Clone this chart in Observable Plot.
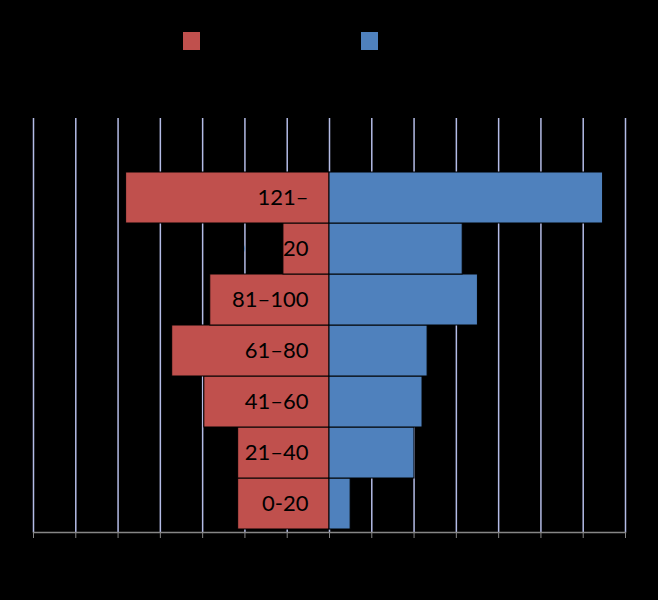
<!DOCTYPE html>
<html>
<head>
<meta charset="utf-8">
<script src="https://cdn.jsdelivr.net/npm/d3@7"></script>
<script src="https://cdn.jsdelivr.net/npm/@observablehq/plot@0.6"></script>
<style>
  html, body { margin: 0; padding: 0; background: #000; }
  #wrap { position: relative; width: 658px; height: 600px; background: #000; }
  .legend { position: absolute; top: 32px; display: flex; align-items: center; font: 14px Lato, sans-serif; color: #000; }
  .sw { width: 17px; height: 18px; display: inline-block; margin-right: 6px; }
</style>
</head>
<body>
<div id="wrap">
  <div class="legend" style="left:183px"><span class="sw" style="background:#c0504d"></span><span>Series 1</span></div>
  <div class="legend" style="left:361px"><span class="sw" style="background:#4f81bd"></span><span>Series 2</span></div>
</div>
<script>
const categories = ["0-20", "21–40", "41–60", "61–80", "81–100", "101–120", "121–"];
const leftValues = [2.16, 2.16, 2.96, 3.72, 2.82, 1.09, 4.81];
const rightValues = [0.50, 2.01, 2.20, 2.32, 3.51, 3.15, 6.47];
const xTicks = [-7, -6, -5, -4, -3, -2, -1, 0, 1, 2, 3, 4, 5, 6, 7];

const data = categories.map((c, i) => ({cat: c, left: leftValues[i], right: rightValues[i]}));
const yDomain = [" ", ...categories.slice().reverse()];

const chart = Plot.plot({
  width: 658,
  height: 600,
  marginLeft: 33,
  marginRight: 33,
  marginTop: 118,
  marginBottom: 68,
  style: {background: "#000", fontFamily: "Lato, sans-serif"},
  x: {domain: [-7, 7]},
  y: {domain: yDomain, padding: 0, axis: null},
  marks: [
    Plot.gridX(xTicks, {stroke: "#b4bce6", strokeOpacity: 1, strokeWidth: 1.5}),
    Plot.barX(data, {y: "cat", x1: d => -d.left, x2: 0, fill: "#c0504d", stroke: "#000", strokeWidth: 1, inset: 0}),
    Plot.barX(data, {y: "cat", x1: 0, x2: "right", fill: "#4f81bd", stroke: "#000", strokeWidth: 1, inset: 0}),
    Plot.text(data, {y: "cat", x: 0, dx: -21, text: "cat", textAnchor: "end", fontSize: 22, fill: "#000"}),
    Plot.frame({anchor: "bottom", stroke: "#868686", strokeWidth: 1.5}),
    Plot.axisX({ticks: xTicks, tickSize: 6, stroke: "#868686", fill: "#000", tickFormat: d => Math.abs(d), label: null, fontSize: 12})
  ]
});
document.getElementById("wrap").appendChild(chart);
</script>
</body>
</html>
